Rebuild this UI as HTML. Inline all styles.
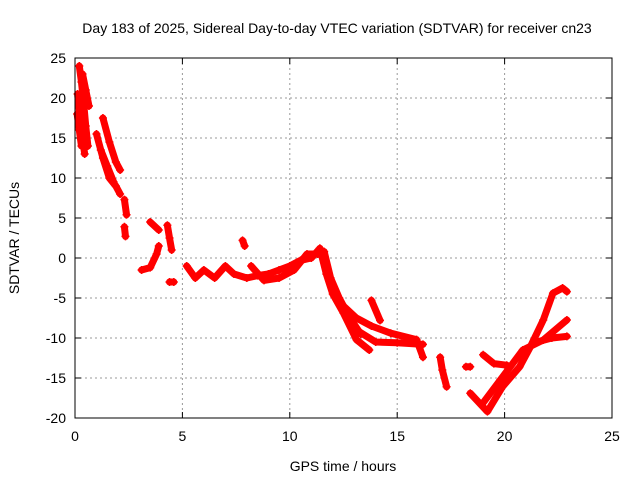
<!DOCTYPE html>
<html><head><meta charset="utf-8"><style>
body{margin:0;background:#fff;}
svg text{font-family:"Liberation Sans",sans-serif;font-size:14px;fill:#000;}
</style></head><body>
<svg id="chart" width="640" height="480">
<rect width="640" height="480" fill="#fff"/>
<text x="337" y="33" text-anchor="middle">Day 183 of 2025, Sidereal Day-to-day VTEC variation (SDTVAR) for receiver cn23</text>
<text x="343" y="471" text-anchor="middle">GPS time / hours</text>
<text transform="translate(19,238) rotate(-90)" text-anchor="middle">SDTVAR / TECUs</text>
<g id="grid"></g><g id="ticks"></g><g id="marks"></g>
<rect x="75" y="58" width="537" height="360" fill="none" stroke="#000" stroke-width="1"/>
</svg>
<script>
const xTicks=[0,5,10,15,20,25];
const yTicks=[25,20,15,10,5,0,-5,-10,-15,-20];
const segA1=[[0.2,24],[0.3,22],[0.4,19.5],[0.5,16.5],[0.6,14]];
const segA2=[[0.12,20.5],[0.25,17],[0.35,15],[0.45,13]];
const segA3=[[0.35,23],[0.5,21],[0.65,19]];
const segA4=[[0.1,18],[0.2,16],[0.3,14]];
const segB1=[[1.3,17.5],[1.6,14.5],[1.9,12],[2.1,11]];
const segB2=[[1.0,15.5],[1.3,12.5],[1.6,10],[1.9,9],[2.1,8]];
const segB3=[[1.2,13.5],[1.5,11.5],[1.8,9.5]];
const segC1=[[2.3,7.3],[2.4,5.4]];
const segC2=[[2.3,3.9],[2.35,2.7]];
const segD=[[3.5,4.5],[3.9,3.5]];
const segE=[[4.3,4.1],[4.4,2.5],[4.5,1]];
const segF=[[3.1,-1.5],[3.5,-1.2],[3.8,0.5],[3.9,1.5]];
const segG=[[4.4,-3],[4.6,-3]];
const segH=[[5.2,-1],[5.6,-2.5],[6.0,-1.5],[6.5,-2.5],[7.0,-1],[7.4,-2],[8.0,-2.5],[8.5,-2.2],[9.0,-2],[9.5,-1.5],[10.0,-1],[10.5,-0.3],[11.0,0],[11.4,1.2]];
const segH2=[[8.2,-1],[8.8,-2.8],[9.5,-2.5],[10.2,-1.5],[10.8,0.5],[11.3,0.5]];
const segI=[[7.8,2.2],[7.9,1.5]];
const segJ=[[11.4,1.2],[11.7,-2],[12.0,-4.5],[12.5,-6.9],[13.1,-10.2],[13.7,-11.5]];
const segJ2=[[11.6,0.8],[11.9,-2.5],[12.3,-5],[12.8,-7.5],[13.3,-9.5]];
const segK=[[12.5,-6],[13.1,-7.5],[13.8,-8.5],[14.7,-9.4],[15.9,-10.2],[16.2,-12.4]];
const segL=[[13.1,-9],[14,-10.5],[15,-10.6],[16.2,-10.8]];
const segM=[[13.8,-5.3],[14.2,-7.8]];
const segN=[[17.0,-12.4],[17.1,-14],[17.3,-16.1]];
const segO=[[18.2,-13.6],[18.4,-13.6]];
const segP=[[18.4,-16.9],[19.2,-19.2],[19.9,-16.1],[20.7,-13.6],[21.2,-11.1],[21.8,-7.75],[22.25,-4.4],[22.7,-3.75],[22.9,-4.2]];
const segQ=[[19.0,-12.1],[19.5,-13.2],[20.1,-13.4]];
const segR=[[19.0,-18.1],[19.8,-15.25],[20.85,-11.5],[21.8,-10.25],[22.9,-7.75]];
const segS=[[21.5,-10.5],[22.2,-10],[22.9,-9.8]];
const segs=[segA1,segA2,segA3,segA4,segB1,segB2,segB3,segC1,segC2,segD,segE,segF,segG,segH,segH2,segI,segJ,segJ2,segK,segL,segM,segN,segO,segP,segQ,segR,segS];
const NS='http://www.w3.org/2000/svg';
const X=h=>75+h*537/25, Y=v=>58+(25-v)*8;
const grid=document.getElementById('grid'),ticks=document.getElementById('ticks'),marks=document.getElementById('marks');
function mk(t,a,p){const e=document.createElementNS(NS,t);for(const k in a)e.setAttribute(k,a[k]);p.appendChild(e);return e;}
xTicks.forEach(t=>{const x=X(t);
 if(t>0&&t<25){const g=mk('line',{x1:x,x2:x,y1:58,y2:418,stroke:'#999','stroke-dasharray':'2,3'},grid);
 
 }
 mk('line',{x1:x,x2:x,y1:418,y2:412,stroke:'#000'},ticks);mk('line',{x1:x,x2:x,y1:58,y2:64,stroke:'#000'},ticks);
 const l=mk('text',{x:x,y:441,'text-anchor':'middle'},ticks);l.textContent=t;
 
 });
yTicks.forEach(t=>{const y=Y(t);
 if(t<25&&t>-20){const g=mk('line',{x1:75,x2:612,y1:y,y2:y,stroke:'#999','stroke-dasharray':'2,3'},grid);
 
 }
 mk('line',{x1:75,x2:81,y1:y,y2:y,stroke:'#000'},ticks);mk('line',{x1:612,x2:606,y1:y,y2:y,stroke:'#000'},ticks);
 const l=mk('text',{x:66,y:y+5,'text-anchor':'end'},ticks);l.textContent=t;
 
 });
segs.forEach(s=>{
 const pl=mk('polyline',{points:s.map(p=>X(p[0])+','+Y(p[1])).join(' '),fill:'none',stroke:'#f00','stroke-width':7,'stroke-linejoin':'round','stroke-linecap':'round'},marks);
 
 
 s.forEach(p=>{const x=X(p[0]),y=Y(p[1]);
  const m=mk('path',{d:`M${x-4},${y}H${x+4}M${x},${y-4}V${y+4}`,stroke:'#f00','stroke-width':1.5},marks);
  
  });
});
</script>
</body></html>
